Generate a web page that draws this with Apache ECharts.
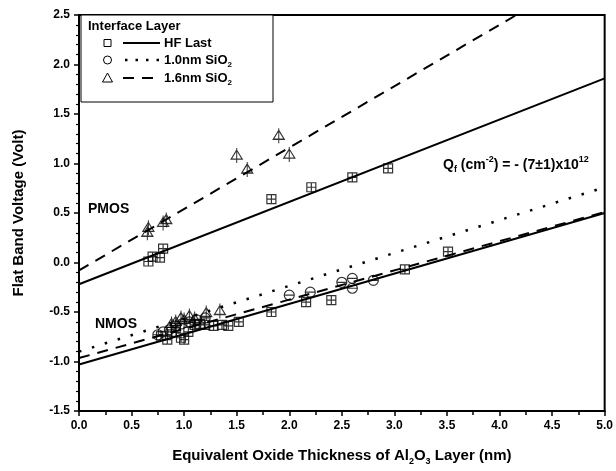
<!DOCTYPE html>
<html>
<head>
<meta charset="utf-8">
<script src="https://cdn.jsdelivr.net/npm/echarts@6/dist/echarts.min.js"></script>
<style>
  html, body { margin: 0; padding: 0; background: #fff; }
  #chart { width: 616px; height: 471px; }
</style>
</head>
<body>
<div id="chart"></div>
<script>
// Flat band voltage vs. equivalent oxide thickness of the Al2O3 layer

// Axis ranges
const xRange = [0, 5, 0.5];
const yRange = [-1.5, 2.5, 0.5];

// PMOS measurements [EOT (nm), Vfb (V)]
const pmosHfLast = [[0.66, 0.01], [0.70, 0.06], [0.77, 0.05], [0.80, 0.14], [1.83, 0.64], [2.21, 0.76], [2.60, 0.86], [2.94, 0.95]];
const pmosSiO2_16 = [[0.65, 0.30], [0.66, 0.35], [0.80, 0.40], [0.83, 0.43], [1.50, 1.08], [1.60, 0.94], [1.90, 1.28], [2.00, 1.09]];

// NMOS measurements [EOT (nm), Vfb (V)]
const nmosHfLast = [[0.78, -0.74], [0.84, -0.78], [0.88, -0.70], [0.92, -0.66], [0.97, -0.76], [1.00, -0.78],
  [1.04, -0.70], [1.10, -0.63], [1.15, -0.62], [1.20, -0.63], [1.28, -0.64], [1.36, -0.63], [1.42, -0.64],
  [1.52, -0.60], [1.83, -0.50], [2.16, -0.40], [2.40, -0.38], [3.10, -0.07], [3.51, 0.11]];
const nmosSiO2_10 = [[0.75, -0.73], [0.80, -0.70], [0.86, -0.68], [0.92, -0.64], [0.98, -0.62], [1.05, -0.60],
  [1.12, -0.58], [1.20, -0.56], [2.00, -0.33], [2.20, -0.30], [2.50, -0.20], [2.60, -0.16], [2.60, -0.26], [2.80, -0.18]];
const nmosSiO2_16 = [[0.88, -0.62], [0.92, -0.60], [0.97, -0.56], [1.00, -0.58], [1.05, -0.54], [1.10, -0.57],
  [1.21, -0.51], [1.34, -0.49]];

// Linear fit end points
const fitPmosHfLast = [[0, -0.22], [5, 1.86]];
const fitPmosSiO2_16 = [[0, -0.08], [4.16, 2.5]];
const fitNmosHfLast = [[0, -1.03], [5, 0.50]];
const fitNmosSiO2_10 = [[0, -0.90], [5, 0.76]];
const fitNmosSiO2_16 = [[0, -0.965], [5, 0.51]];

// Text
const legendTitle = 'Interface Layer';
const legendNames = ['HF Last', '1.0nm SiO{sub|2}', '1.6nm SiO{sub|2}'];
const qfText = 'Q{sub|f} (cm{sup|-2}) = - (7±1)x10{sup|12}';

const FONT = '"Liberation Sans", Arial, sans-serif';

// Marker shapes with error bars
const squareSym = 'path://M0,0H10V10H0Z M0,5H10 M5,0V10';
const circleSym = 'path://M0,5A5,5,0,1,1,10,5A5,5,0,1,1,0,5Z M0,5H10';
const triSym = 'path://M5,1L10,10H0Z M5,-1V14';

const hollow = { color: 'rgba(0,0,0,0)', borderColor: '#000', borderWidth: 1.2 };

function fitLine(data, type, width) {
  return {
    type: 'line', data, symbol: 'none', silent: true, z: 2,
    lineStyle: { color: '#000', width: width, type: type }
  };
}
function scatter(data, symbol, size, keep) {
  return {
    type: 'scatter', data, symbol, symbolSize: size, symbolKeepAspect: keep, z: 3,
    itemStyle: hollow
  };
}

const supRich = {
  sub: { fontFamily: FONT, fontWeight: 'bold', fontSize: 8, verticalAlign: 'bottom', lineHeight: 15, padding: [0, 0, -1, 0] },
  sup: { fontFamily: FONT, fontWeight: 'bold', fontSize: 8, verticalAlign: 'top', lineHeight: 15, padding: [-2, 0, 0, 0] }
};
const qfRich = {
  sub: { fontFamily: FONT, fontWeight: 'bold', fontSize: 9, verticalAlign: 'bottom', lineHeight: 16, padding: [0, 0, -1, 0] },
  sup: { fontFamily: FONT, fontWeight: 'bold', fontSize: 9, verticalAlign: 'top', lineHeight: 16, padding: [-2, 0, 0, 0] }
};

const chart = echarts.init(document.getElementById('chart'), null, { renderer: 'canvas' });

const legendX = 81, legendY = 15;
const rowY = [43, 60, 78];

const option = {
  backgroundColor: '#fff',
  animation: false,
  grid: { left: 79, right: 8, top: 15, bottom: 52, show: true, borderColor: '#000', borderWidth: 2 },
  xAxis: {
    type: 'value', min: xRange[0], max: xRange[1], interval: xRange[2],
    name: 'Equivalent Oxide Thickness of Al{sub|2}O{sub|3} Layer (nm)',
    nameLocation: 'middle', nameGap: 36,
    nameTextStyle: { fontFamily: FONT, fontWeight: 'bold', fontSize: 15, color: '#000', lineHeight: 18, rich: {
      sub: { fontFamily: FONT, fontWeight: 'bold', fontSize: 9, verticalAlign: 'bottom', lineHeight: 18, padding: [0, 0, -1, 0] }
    } },
    axisLine: { onZero: false, lineStyle: { color: '#000', width: 2 } },
    axisTick: { length: 5, lineStyle: { color: '#000', width: 1.5 } },
    minorTick: { show: true, splitNumber: 2, length: 4, lineStyle: { color: '#000', width: 1.5 } },
    splitLine: { show: false },
    axisLabel: { color: '#000', fontFamily: FONT, fontWeight: 'bold', fontSize: 12, margin: 9,
      formatter: v => v.toFixed(1) }
  },
  yAxis: {
    type: 'value', min: yRange[0], max: yRange[1], interval: yRange[2],
    name: 'Flat Band Voltage (Volt)',
    nameLocation: 'middle', nameGap: 53,
    nameTextStyle: { fontFamily: FONT, fontWeight: 'bold', fontSize: 15, color: '#000' },
    axisLine: { onZero: false, lineStyle: { color: '#000', width: 2 } },
    axisTick: { length: 5, lineStyle: { color: '#000', width: 1.5 } },
    minorTick: { show: true, splitNumber: 5, length: 3, lineStyle: { color: '#000', width: 1.2 } },
    splitLine: { show: false },
    axisLabel: { color: '#000', fontFamily: FONT, fontWeight: 'bold', fontSize: 12, margin: 9,
      formatter: v => v.toFixed(1) }
  },
  series: [
    fitLine(fitPmosHfLast, 'solid', 2),
    fitLine(fitPmosSiO2_16, [11, 8], 2),
    fitLine(fitNmosHfLast, 'solid', 2),
    fitLine(fitNmosSiO2_10, [2.5, 11], 2.5),
    fitLine(fitNmosSiO2_16, [11, 8], 2),
    scatter(pmosHfLast, squareSym, 9, true),
    scatter(pmosSiO2_16, triSym, [11, 15], false),
    scatter(nmosHfLast, squareSym, 9, true),
    scatter(nmosSiO2_10, circleSym, 10, true),
    scatter(nmosSiO2_16, triSym, [11, 15], false)
  ],
  graphic: [
    // legend box
    { type: 'rect', shape: { x: legendX, y: legendY, width: 192, height: 87 },
      style: { fill: '#fff', stroke: '#000', lineWidth: 1 }, z: 10 },
    { type: 'text', x: 88, y: 26, z: 11,
      style: { text: legendTitle, font: 'bold 13px ' + FONT, fill: '#000', verticalAlign: 'middle' } },
    // legend symbols
    { type: 'rect', shape: { x: 104, y: rowY[0] - 3.5, width: 7, height: 7 },
      style: { fill: 'none', stroke: '#000', lineWidth: 1 }, z: 11 },
    { type: 'circle', shape: { cx: 107.5, cy: rowY[1], r: 4 },
      style: { fill: 'none', stroke: '#000', lineWidth: 1 }, z: 11 },
    { type: 'polygon', shape: { points: [[107.5, rowY[2] - 5], [112.5, rowY[2] + 4], [102.5, rowY[2] + 4]] },
      style: { fill: 'none', stroke: '#000', lineWidth: 1 }, z: 11 },
    // legend line samples
    { type: 'line', shape: { x1: 123, y1: rowY[0], x2: 160, y2: rowY[0] },
      style: { stroke: '#000', lineWidth: 2 }, z: 11 },
    { type: 'line', shape: { x1: 125, y1: rowY[1], x2: 160, y2: rowY[1] },
      style: { stroke: '#000', lineWidth: 2.5, lineDash: [2.5, 8] }, z: 11 },
    { type: 'line', shape: { x1: 123, y1: rowY[2], x2: 160, y2: rowY[2] },
      style: { stroke: '#000', lineWidth: 2, lineDash: [11, 8] }, z: 11 },
    // legend labels
    ...legendNames.map((t, i) => ({
      type: 'text', x: 164, y: rowY[i], z: 11,
      style: { text: t, font: 'bold 13px ' + FONT, fill: '#000', verticalAlign: 'middle', rich: supRich }
    })),
    // annotations
    { type: 'text', x: 88, y: 209, z: 11,
      style: { text: 'PMOS', font: 'bold 14px ' + FONT, fill: '#000', verticalAlign: 'middle' } },
    { type: 'text', x: 95, y: 324, z: 11,
      style: { text: 'NMOS', font: 'bold 14px ' + FONT, fill: '#000', verticalAlign: 'middle' } },
    { type: 'text', x: 443, y: 165, z: 11,
      style: { text: qfText, font: 'bold 14px ' + FONT, fill: '#000', verticalAlign: 'middle', rich: qfRich } }
  ]
};

chart.setOption(option);
</script>
</body>
</html>
